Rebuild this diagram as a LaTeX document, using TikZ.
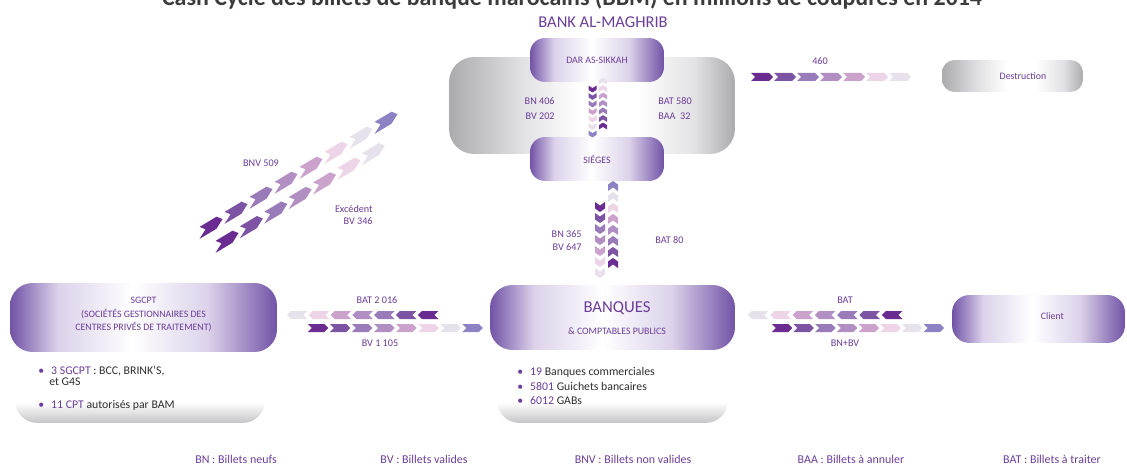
\documentclass[tikz,border=0pt]{standalone}
\usepackage{fontspec}
\setmainfont{Carlito}
\usetikzlibrary{calc}

% colours
\definecolor{bampurple}{HTML}{6B3D9A}
\definecolor{boxpurple}{HTML}{7153A6}
\definecolor{boxlight}{HTML}{DCD2EA}
\definecolor{titlegray}{HTML}{3B3B3B}
\definecolor{infogray}{HTML}{2E2E2E}
\definecolor{edgegray}{HTML}{ABABAE}
\definecolor{midgray}{HTML}{E2E2E4}
\definecolor{shadowgray}{HTML}{C4C4C6}
\definecolor{c1}{HTML}{6A2C91}
\definecolor{c2}{HTML}{7D54A4}
\definecolor{c3}{HTML}{9A7BB9}
\definecolor{c4}{HTML}{B18FC3}
\definecolor{c5}{HTML}{CBA2CC}
\definecolor{c6}{HTML}{EDD4E6}
\definecolor{c7}{HTML}{E7E1EC}
\definecolor{chead}{HTML}{8D82C3}

% shadings of the boxes
\pgfdeclarehorizontalshading{graysh}{100bp}{color(0bp)=(edgegray); color(25bp)=(edgegray);
  color(38bp)=(midgray); color(48bp)=(white); color(58bp)=(white); color(68bp)=(midgray); color(75bp)=(edgegray); color(100bp)=(edgegray)}
\pgfdeclarehorizontalshading{purplesh}{100bp}{color(0bp)=(boxpurple); color(25bp)=(boxpurple);
  color(34bp)=(boxlight); color(48bp)=(white); color(62bp)=(boxlight); color(75bp)=(boxpurple); color(100bp)=(boxpurple)}
\pgfdeclareverticalshading{infosh}{100bp}{color(0bp)=(shadowgray); color(25bp)=(shadowgray);
  color(36bp)=(white); color(100bp)=(white)}

\tikzset{
  chev len/.store in=\chevlen, chev len=22,
  chev wid/.store in=\chevwid, chev wid=8,
  chev notch/.store in=\chevnotch, chev notch=4,
  pics/chev/.style={code={
    \fill[#1] ({-\chevlen/2},{-\chevwid/2}) -- ({\chevlen/2-\chevnotch},{-\chevwid/2})
      -- ({\chevlen/2},0) -- ({\chevlen/2-\chevnotch},{\chevwid/2})
      -- ({-\chevlen/2},{\chevwid/2}) -- ({-\chevlen/2+\chevnotch},0) -- cycle;}},
  graybox/.style={rectangle, inner sep=0pt, shade, shading=graysh},
  purplebox/.style={rectangle, inner sep=0pt, shade, shading=purplesh, text=bampurple},
  infobox/.style={rectangle, inner sep=0pt, shade, shading=infosh},
  boxlabel/.style={font=\fontsize{5.6}{7.8}\selectfont, text=bampurple, align=center, inner sep=0pt},
  flowlabel/.style={font=\fontsize{5.8}{8.5}\selectfont, text=bampurple, inner sep=0pt},
  infotext/.style={font=\fontsize{6.7}{8}\selectfont, text=infogray, inner sep=0pt, anchor=base west},
  legend/.style={font=\fontsize{6.8}{8}\selectfont, text=bampurple, inner sep=0pt}
}

\begin{document}
\begin{tikzpicture}[x=0.02cm, y=-0.02cm]
\useasboundingbox (0,0) rectangle (1127,466);
\clip (0,0) rectangle (1127,466);

% Title (cut by the top edge)
\node[font=\fontsize{13.6}{15}\selectfont\bfseries, text=titlegray, anchor=base] (title) at (572,6)
  {Cash Cycle des billets de banque marocains (BBM) en millions de coupures en 2014};
\node[font=\fontsize{9.4}{11}\selectfont, text=bampurple, inner sep=0pt] (bamtitle) at (603,22) {BANK AL-MAGHRIB};

% Bank Al-Maghrib
\node[graybox, minimum width=5.72cm, minimum height=1.94cm, rounded corners=0.5cm] (bam) at (592,105.5) {};
\node[purplebox, boxlabel, minimum width=2.68cm, minimum height=0.88cm, rounded corners=0.3cm] (dar) at (597,60) {DAR AS-SIKKAH};
\node[purplebox, boxlabel, minimum width=2.68cm, minimum height=0.88cm, rounded corners=0.3cm] (sieges) at (597,159) {SIÉGES};

% Destruction
\node[graybox, minimum width=2.82cm, minimum height=0.64cm, rounded corners=0.25cm,
  label={[boxlabel, xshift=0.21cm]center:Destruction}] (destr) at (1012.5,76) {};

% SGCPT
\node[infobox, minimum width=5cm, minimum height=1.86cm, rounded corners=0.45cm] (sgcptinfo) at (140,376.5) {};
\node[purplebox, minimum width=5.34cm, minimum height=1.38cm, rounded corners=0.45cm,
  label={[boxlabel, yshift=0.06cm]center:SGCPT\\(SOCIÉTÉS GESTIONNAIRES DES\\CENTRES PRIVÉS DE TRAITEMENT)}] (sgcpt) at (143.5,317.5) {};
\node[infotext] (sg1) at (38,374) {\textcolor{bampurple}{\textbullet\hspace{4pt}3 SGCPT} : BCC, BRINK’S,};
\node[infotext] (sg2) at (49,385.5) {et G4S};
\node[infotext] (sg3) at (38,408) {\textcolor{bampurple}{\textbullet\hspace{4pt}11 CPT} autorisés par BAM};

% Banques
\node[infobox, minimum width=4.62cm, minimum height=1.86cm, rounded corners=0.45cm] (banqinfo) at (612.5,376.5) {};
\node[purplebox, minimum width=4.9cm, minimum height=1.3cm, rounded corners=0.45cm,
  label={[boxlabel, font=\fontsize{9.5}{11}\selectfont, xshift=0.09cm, yshift=0.18cm]center:BANQUES},
  label={[boxlabel, xshift=0.09cm, yshift=-0.28cm]center:\& COMPTABLES PUBLICS}] (banques) at (612.5,317.5) {};
\node[infotext] (bq1) at (517,375) {\textcolor{bampurple}{\textbullet\hspace{4pt}19} Banques commerciales};
\node[infotext] (bq2) at (517,390) {\textcolor{bampurple}{\textbullet\hspace{4pt}5801} Guichets bancaires};
\node[infotext] (bq3) at (517,404) {\textcolor{bampurple}{\textbullet\hspace{4pt}6012} GABs};

% Client
\node[purplebox, minimum width=3.46cm, minimum height=0.96cm, rounded corners=0.35cm,
  label={[boxlabel, xshift=0.28cm, yshift=0.06cm]center:Client}] (client) at (1038.5,319) {};

% chevron bands
\coordinate (r460) at (762,77);
\foreach \c [count=\i from 0] in {c1,c2,c3,c4,c5,c6,c7}
  \pic at ($(r460)+(23*\i,0)$) {chev=\c};

\coordinate (rdar) at (592.5,89);
\foreach \c [count=\i from 0] in {c1,c2,c3,c5,c6,c7,chead}
  \pic[rotate=-90, chev len=6.8, chev wid=8, chev notch=2.5] at ($(rdar)+(0,7.5*\i)$) {chev=\c};
\coordinate (rsie) at (603,126);
\foreach \c [count=\i from 0] in {c1,c2,c3,c4,c5,c6,c7}
  \pic[rotate=90, chev len=6.8, chev wid=8, chev notch=2.5] at ($(rsie)+(0,-7.5*\i)$) {chev=\c};

\coordinate (rbkdn) at (600,207);
\foreach \c [count=\i from 0] in {c1,c2,c3,c4,c5,c6,c7}
  \pic[rotate=-90, chev len=10, chev wid=10, chev notch=3.5] at ($(rbkdn)+(0,11*\i)$) {chev=\c};
\coordinate (rbkup) at (613,263);
\foreach \c [count=\i from 0] in {c1,c2,c3,c4,c5,c6,c7,chead}
  \pic[rotate=90, chev len=10, chev wid=10, chev notch=3.5] at ($(rbkup)+(0,-11*\i)$) {chev=\c};

\coordinate (rsgbat) at (428,315);
\foreach \c [count=\i from 0] in {c1,c2,c3,c4,c5,c6,c7}
  \pic[rotate=180, chev len=20.5] at ($(rsgbat)+(-21.8*\i,0)$) {chev=\c};
\coordinate (rsgbv) at (318,328);
\foreach \c [count=\i from 0] in {c1,c2,c3,c4,c5,c6,c7,chead}
  \pic[chev len=20.5] at ($(rsgbv)+(22.1*\i,0)$) {chev=\c};

\coordinate (rclbat) at (892,315);
\foreach \c [count=\i from 0] in {c1,c2,c3,c4,c5,c6,c7}
  \pic[rotate=180, chev len=20.5] at ($(rclbat)+(-22.3*\i,0)$) {chev=\c};
\coordinate (rclbn) at (782,328);
\foreach \c [count=\i from 0] in {c1,c2,c3,c4,c5,c6,c7,chead}
  \pic[chev len=20.5] at ($(rclbn)+(21.7*\i,0)$) {chev=\c};

\coordinate (rbnv) at (211,226);
\foreach \c [count=\i from 0] in {c1,c2,c3,c4,c5,c6,c7,chead}
  \pic[yslant=0.6, chev len=23, chev wid=12, chev notch=6] at ($(rbnv)+(25*\i,-15*\i)$) {chev=\c};
\coordinate (rexc) at (227,240);
\foreach \c [count=\i from 0] in {c1,c2,c3,c4,c5,c6,c7}
  \pic[yslant=0.6, chev len=23, chev wid=12, chev notch=6] at ($(rexc)+(24.4*\i,-14.6*\i)$) {chev=\c};

% flow labels
\node[flowlabel, align=right, anchor=east] (dardown) at (555,109) {BN 406\\BV 202};
\node[flowlabel, align=left, anchor=west] (darup) at (658,109) {BAT 580\\BAA~~32};
\node[flowlabel] (destrlab) at (820,61.5) {460};
\node[flowlabel] (bnvlab) at (261,163) {BNV 509};
\node[flowlabel, font=\fontsize{5.8}{6.6}\selectfont, align=right, anchor=east] (exclab) at (373,215) {Excédent\\BV 346};
\node[flowlabel, font=\fontsize{5.8}{7.5}\selectfont, align=right, anchor=east] (bklab) at (582,241) {BN 365\\BV 647};
\node[flowlabel, anchor=west] (batlab) at (655,240) {BAT 80};
\node[flowlabel] (sgbat) at (377,300) {BAT 2 016};
\node[flowlabel] (sgbv) at (380,343) {BV 1 105};
\node[flowlabel] (clbat) at (845,300) {BAT};
\node[flowlabel] (clbn) at (845,343) {BN+BV};

% legend
\node[legend] (lbn) at (236,459) {BN : Billets neufs};
\node[legend] (lbv) at (424,459) {BV : Billets valides};
\node[legend] (lbnv) at (633,459) {BNV : Billets non valides};
\node[legend] (lbaa) at (851,459) {BAA : Billets à annuler};
\node[legend] (lbat) at (1052,459) {BAT : Billets à traiter};
\end{tikzpicture}
\end{document}
